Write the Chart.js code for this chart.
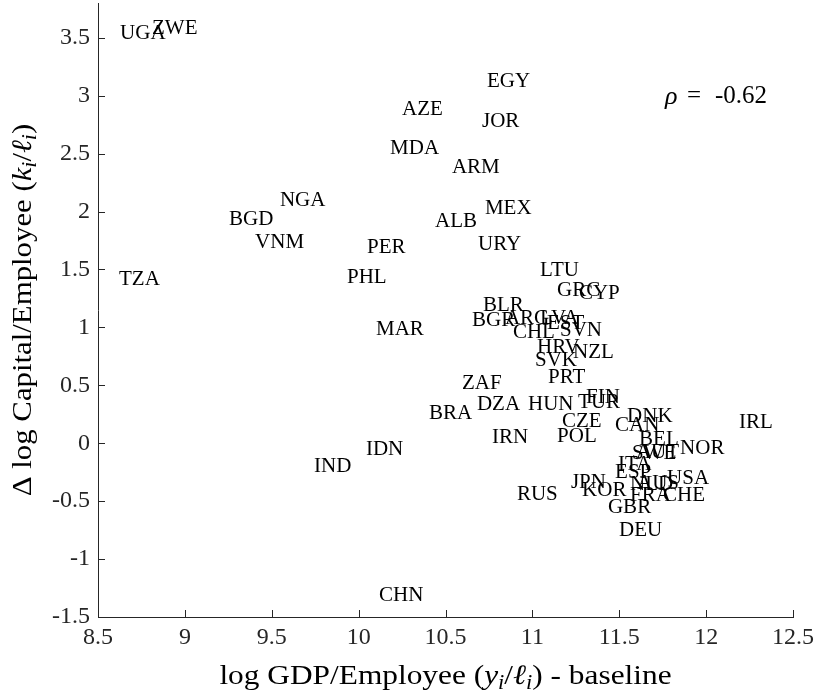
<!DOCTYPE html>
<html>
<head>
<meta charset="utf-8">
<script src="https://cdn.jsdelivr.net/npm/chart.js@4.4.1/dist/chart.umd.min.js"></script>
<style>
  html, body { margin: 0; padding: 0; background: #fff; }
  #wrap { width: 818px; height: 694px; position: relative; }
</style>
</head>
<body>
<div id="wrap"><canvas id="myChart"></canvas></div>
<script>
// country codes and their positions (log GDP/employee, delta log capital/employee)
const codes = ["UGA","ZWE","EGY","AZE","JOR","MDA","ARM","NGA","MEX","BGD","ALB","VNM","URY","PER","TZA","PHL",
  "LTU","GRC","CYP","BLR","BGR","ARG","LVA","EST","CHL","SVN","HRV","NZL","SVK","PRT","MAR","ZAF","FIN","DZA",
  "HUN","TUR","BRA","DNK","IRL","CZE","CAN","BEL","NOR","AUT","SWE","POL","IRN","IDN","IND","ITA","ESP","USA",
  "AUS","NLD","JPN","KOR","FRA","CHE","GBR","DEU","RUS","CHN"]
const xs = [8.627,8.811,10.739,10.250,10.710,10.181,10.537,9.547,10.727,9.254,10.440,9.404,10.687,10.048,8.621,9.933,
  11.044,11.142,11.268,10.716,10.653,10.842,11.044,11.084,10.888,11.159,11.027,11.234,11.015,11.090,10.100,10.595,11.309,10.681,
  10.975,11.263,10.405,11.545,12.189,11.170,11.476,11.614,11.850,11.596,11.573,11.142,10.768,10.042,9.743,11.493,11.476,11.775,
  11.602,11.562,11.222,11.286,11.562,11.752,11.435,11.499,10.911,10.117]
const ys = [3.535,3.578,3.119,2.877,2.773,2.548,2.384,2.099,2.029,1.934,1.917,1.735,1.718,1.692,1.415,1.433,
  1.493,1.320,1.294,1.190,1.061,1.078,1.078,1.035,0.957,0.974,0.827,0.784,0.715,0.567,0.983,0.516,0.394,0.334,
  0.334,0.351,0.256,0.230,0.178,0.187,0.152,0.031,-0.047,-0.081,-0.090,0.057,0.048,-0.055,-0.202,-0.185,-0.254,-0.306,
  -0.350,-0.358,-0.341,-0.410,-0.453,-0.453,-0.557,-0.756,-0.445,-1.310]

const xTickVals = [8.5, 9, 9.5, 10, 10.5, 11, 11.5, 12, 12.5]
const xTickLabels = ["8.5","9","9.5","10","10.5","11","11.5","12","12.5"]
const yTickVals = [-1.5, -1, -0.5, 0, 0.5, 1, 1.5, 2, 2.5, 3, 3.5]
const yTickLabels = ["-1.5","-1","-0.5","0","0.5","1","1.5","2","2.5","3","3.5"]

const rhoText = "-0.62"
const rhoPos = [11.763, 2.99]

const SERIF = '"Liberation Serif", "DejaVu Serif", serif'
const AXIS_COLOR = "#262626"

// draws text made of plain / italic / subscript pieces, centered on x
// (stretched a bit sideways, the reference uses a wider TeX font)
function drawRich(c, segs, size, x, y, stretch) {
    const fontFor = (s) => {
        if (s[1] == "s") return `italic ${Math.round(size * 0.7)}px ${SERIF}`
        if (s[1] == "i") return `italic ${size}px ${SERIF}`
        return `${size}px ${SERIF}`
    }
    let total = 0
    segs.forEach(s => { c.font = fontFor(s); total += c.measureText(s[0]).width })
    c.save()
    c.translate(x, y)
    c.scale(stretch, 1)
    let cx = -total / 2
    c.textAlign = "left"
    c.textBaseline = "middle"
    segs.forEach(s => {
        c.font = fontFor(s)
        c.fillText(s[0], cx, s[1] == "s" ? size * 0.25 : 0)
        cx += c.measureText(s[0]).width
    })
    c.restore()
}

const labelPlugin = {
    id: "labels",
    afterDraw(chart) {
        const c = chart.ctx
        const meta = chart.getDatasetMeta(0)
        const xScale = chart.scales.x
        const yScale = chart.scales.y
        const area = chart.chartArea
        c.save()

        // inward tick marks
        c.strokeStyle = AXIS_COLOR
        c.lineWidth = 1
        c.beginPath()
        xTickVals.forEach(v => {
            const px = Math.round(xScale.getPixelForValue(v)) + 0.5
            c.moveTo(px, area.bottom)
            c.lineTo(px, area.bottom - 7)
        })
        yTickVals.forEach(v => {
            const py = Math.round(yScale.getPixelForValue(v)) + 0.5
            c.moveTo(area.left, py)
            c.lineTo(area.left + 7, py)
        })
        c.stroke()

        // country codes at the points
        c.fillStyle = "#000"
        c.font = `21px ${SERIF}`
        c.textAlign = "left"
        c.textBaseline = "middle"
        meta.data.forEach((pt, i) => {
            c.fillText(codes[i], pt.x, pt.y)
        })

        // correlation note
        const rx = xScale.getPixelForValue(rhoPos[0])
        const ry = yScale.getPixelForValue(rhoPos[1])
        c.font = `italic 26px ${SERIF}`
        c.fillText("\u03C1", rx, ry)
        c.font = `25px ${SERIF}`
        c.fillText("=", rx + 22, ry)
        c.fillText(rhoText, rx + 50, ry)

        // axis titles
        c.fillStyle = "#000"
        drawRich(c, [["log GDP/Employee (", "r"], ["y", "i"], ["i", "s"], ["/", "r"], ["\u2113", "i"], ["i", "s"], [") - baseline", "r"]],
            28, (area.left + area.right) / 2, 677, 1.12)
        c.translate(24, (area.top + area.bottom) / 2)
        c.rotate(-Math.PI / 2)
        drawRich(c, [["\u0394 log Capital/Employee (", "r"], ["k", "i"], ["i", "s"], ["/", "r"], ["\u2113", "i"], ["i", "s"], [")", "r"]],
            28, 0, 0, 1.1)
        c.restore()
    }
}

const ctx = document.getElementById("myChart")
const chart = new Chart(ctx, {
    type: "scatter",
    data: {
        datasets: [{
            data: codes.map((c, i) => ({ x: xs[i], y: ys[i] })),
            pointRadius: 0,
            pointHoverRadius: 0,
            showLine: false
        }]
    },
    options: {
        responsive: true,
        maintainAspectRatio: false,
        animation: false,
        layout: { padding: { top: 3, right: 25, left: 0, bottom: 0 } },
        plugins: { legend: { display: false }, tooltip: { enabled: false } },
        scales: {
            x: {
                type: "linear",
                min: 8.5,
                max: 12.5,
                afterBuildTicks: (scale) => { scale.ticks = xTickVals.map(v => ({ value: v })) },
                afterFit: (scale) => { scale.height = 77; scale.paddingLeft = 0; scale.paddingRight = 0 },
                ticks: {
                    autoSkip: false,
                    maxRotation: 0,
                    padding: 6,
                    color: AXIS_COLOR,
                    font: { family: SERIF, size: 24 },
                    callback: (v, i) => xTickLabels[i]
                },
                grid: { display: false, drawTicks: false },
                border: { display: true, color: AXIS_COLOR, width: 1 }
            },
            y: {
                type: "linear",
                min: -1.5,
                max: 3.8,
                afterBuildTicks: (scale) => { scale.ticks = yTickVals.map(v => ({ value: v })) },
                afterFit: (scale) => { scale.width = 98; scale.paddingTop = 0; scale.paddingBottom = 0 },
                ticks: {
                    autoSkip: false,
                    padding: 8,
                    color: AXIS_COLOR,
                    font: { family: SERIF, size: 24 },
                    callback: (v, i) => yTickLabels[i]
                },
                grid: { display: false, drawTicks: false },
                border: { display: true, color: AXIS_COLOR, width: 1 }
            }
        }
    },
    plugins: [labelPlugin]
})
</script>
</body>
</html>
